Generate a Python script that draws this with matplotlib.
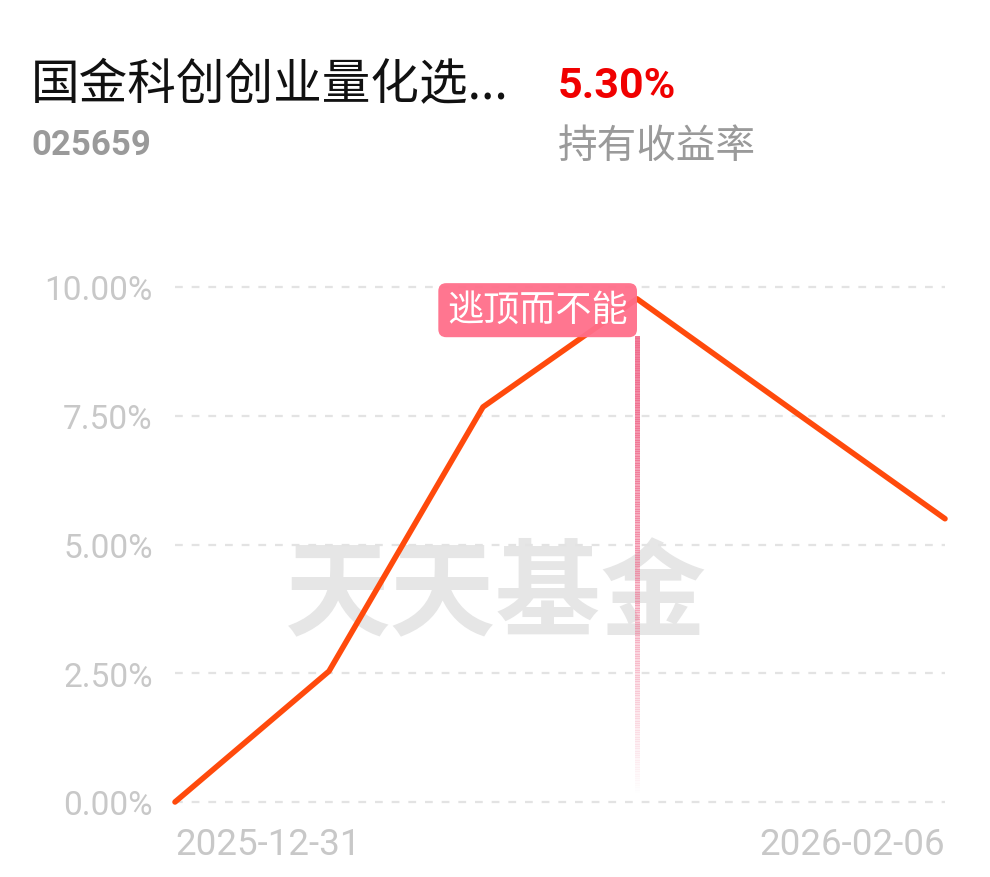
import numpy as np
import matplotlib
matplotlib.use("Agg")
import matplotlib.pyplot as plt
from matplotlib.collections import LineCollection

plt.rcParams['font.family'] = ['Roboto', 'Noto Sans CJK SC', 'DejaVu Sans']

# data
fund_name = '国金科创创业量化选...'
fund_code = '025659'
hold_return = '5.30%'
hold_label = '持有收益率'
dates = ['2025-12-31', '2026-01-08', '2026-01-15', '2026-01-22', '2026-01-29', '2026-02-06']
returns = [0.00, 2.54, 7.67, 9.77, 7.63, 5.50]
y_ticks = [0, 2.5, 5, 7.5, 10]
peak_idx = 3
peak_label = '逃顶而不能'
watermark = '天天基金'

W, H = 990, 878
fig = plt.figure(figsize=(W / 100, H / 100), dpi=100)
ax = fig.add_axes([175 / W, (H - 803) / H, (945 - 175) / W, (803 - 288) / H])

x = np.arange(len(dates))
ax.set_xlim(0, len(dates) - 1)
ax.set_ylim(0, 10)

# grid
for v in y_ticks:
    ax.axhline(v, color='#e3e3e3', lw=1.6, ls=(0, (3.5, 4)), zorder=1, clip_on=False)

# watermark
ax.text(0.417, 0.40, watermark, transform=ax.transAxes, fontsize=76, fontweight='bold',
        family='Noto Sans CJK SC', color='#e6e6e6', ha='center', va='center', zorder=0)

# peak marker with fading line
y_top, y_bot = 9.05, 0.15
ys = np.linspace(y_top, y_bot, 200)
segs = [[(peak_idx, ys[i]), (peak_idx, ys[i + 1])] for i in range(len(ys) - 1)]
alphas = np.linspace(0.9, 0.0, len(segs))
cols = [(0.94, 0.42, 0.55, a) for a in alphas]
ax.add_collection(LineCollection(segs, colors=cols, linewidths=3.6, zorder=2, antialiaseds=False))

ax.plot(x, returns, color='#ff4a0c', lw=4, solid_capstyle='round', zorder=3, clip_on=False)

ax.annotate(peak_label, xy=(peak_idx, 9.55), xytext=(-6.5, 0), textcoords='offset points',
            ha='right', va='center', fontsize=26, color='white', family='Noto Sans CJK SC',
            bbox=dict(boxstyle='round,pad=0.25,rounding_size=0.22', fc='#ff6f8a', ec='none', alpha=0.95),
            zorder=4)

# ticks
ax.set_yticks(y_ticks)
ax.set_yticklabels(['%.2f%%' % v for v in y_ticks])
ax.set_xticks([0, len(dates) - 1])
ax.set_xticklabels([dates[0], dates[-1]])
xl = ax.get_xticklabels()
xl[0].set_ha('left')
xl[1].set_ha('right')
ax.tick_params(axis='y', length=0, pad=16, labelsize=24, labelcolor='#c8c8c8')
ax.tick_params(axis='x', length=0, pad=17, labelsize=26.5, labelcolor='#c8c8c8')
for s in ax.spines.values():
    s.set_visible(False)

# header
fig.text(31 / W, 1 - 85 / H, fund_name, fontsize=35, color='#111111', family='Noto Sans CJK SC',
         ha='left', va='center')
fig.text(558 / W, 1 - 87 / H, hold_return, fontsize=31, color='#f00000', fontweight='bold',
         ha='left', va='center')
fig.text(31 / W, 1 - 146 / H, fund_code, fontsize=25, color='#9a9a9a', fontweight='bold',
         ha='left', va='center')
fig.text(558 / W, 1 - 147 / H, hold_label, fontsize=28.5, color='#9a9a9a', family='Noto Sans CJK SC',
         ha='left', va='center')

fig.savefig('out.png', dpi=100, facecolor='white')
